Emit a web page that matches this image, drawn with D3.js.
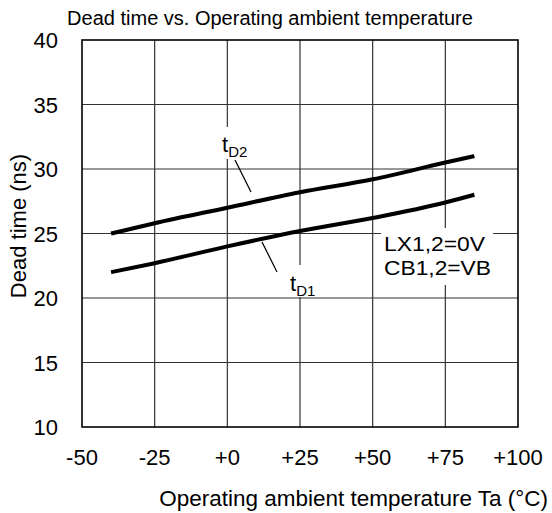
<!DOCTYPE html>
<html>
<head>
<meta charset="utf-8">
<script src="https://cdn.jsdelivr.net/npm/d3@7"></script>
<style>
body { margin: 0; background: #fff; }
svg text { font-family: "Liberation Sans", Arial, sans-serif; fill: #000; }
</style>
</head>
<body>
<svg id="chart" width="552" height="513"></svg>
<script>
// data
var temps = [-40, -25, 0, 25, 50, 75, 85];
var tD1 = [22, 22.7, 24, 25.2, 26.2, 27.4, 28];
var tD2 = [25, 25.8, 27, 28.2, 29.2, 30.5, 31];
var xTicks = [-50, -25, 0, 25, 50, 75, 100];
var xTickLabels = ["-50", "-25", "+0", "+25", "+50", "+75", "+100"];
var yTicks = [10, 15, 20, 25, 30, 35, 40];
var conditions = ["LX1,2=0V", "CB1,2=VB"];

var svg = d3.select("#chart");
var pLeft = 82, pRight = 518, pTop = 40, pBottom = 427;

var x = d3.scaleLinear().domain([-50, 100]).range([pLeft, pRight]);
var y = d3.scaleLinear().domain([10, 40]).range([pBottom, pTop]);

/* grid */
var g = svg.append("g");
g.selectAll("line.vx")
  .data(xTicks.slice(1, -1))
  .enter().append("line")
  .attr("x1", function(d) { return x(d); })
  .attr("x2", function(d) { return x(d); })
  .attr("y1", pTop).attr("y2", pBottom)
  .attr("stroke", "#333").attr("stroke-width", 1.2);
g.selectAll("line.hy")
  .data(yTicks.slice(1, -1))
  .enter().append("line")
  .attr("x1", pLeft).attr("x2", pRight)
  .attr("y1", function(d) { return y(d); })
  .attr("y2", function(d) { return y(d); })
  .attr("stroke", "#333").attr("stroke-width", 1.2);

// frame
g.append("rect")
  .attr("x", pLeft).attr("y", pTop)
  .attr("width", pRight - pLeft).attr("height", pBottom - pTop)
  .attr("fill", "none").attr("stroke", "#000").attr("stroke-width", 1.6);

/* tick labels */
svg.selectAll("text.xt")
  .data(xTicks)
  .enter().append("text")
  .attr("x", function(d) { return x(d); })
  .attr("y", 465)
  .attr("text-anchor", "middle")
  .attr("font-size", 22)
  .text(function(d, i) { return xTickLabels[i]; });

svg.selectAll("text.yt")
  .data(yTicks)
  .enter().append("text")
  .attr("x", 58)
  .attr("y", function(d) { return y(d) + 8; })
  .attr("text-anchor", "end")
  .attr("font-size", 22)
  .text(function(d) { return d; });

/* titles */
svg.append("text")
  .attr("x", 270).attr("y", 25)
  .attr("text-anchor", "middle")
  .attr("font-size", 20)
  .text("Dead time vs. Operating ambient temperature");

svg.append("text")
  .attr("x", 548).attr("y", 506)
  .attr("text-anchor", "end")
  .attr("font-size", 22.5)
  .text("Operating ambient temperature Ta (\u00B0C)");

svg.append("text")
  .attr("transform", "translate(26,226) rotate(-90)")
  .attr("text-anchor", "middle")
  .attr("font-size", 22)
  .text("Dead time (ns)");

/* curves */
var line = d3.line()
  .x(function(d) { return x(d[0]); })
  .y(function(d) { return y(d[1]); })
  .curve(d3.curveMonotoneX);

[tD1, tD2].forEach(function(s) {
  svg.append("path")
    .attr("d", line(temps.map(function(t, i) { return [t, s[i]]; })))
    .attr("fill", "none")
    .attr("stroke", "#000")
    .attr("stroke-width", 4);
});

/* labels with white backing */
function label(bx, by, bw, bh, tx, ty, sub) {
  svg.append("rect").attr("x", bx).attr("y", by)
    .attr("width", bw).attr("height", bh).attr("fill", "#fff");
  var t = svg.append("text").attr("x", tx).attr("y", ty).attr("font-size", 22);
  t.append("tspan").text("t");
  t.append("tspan").attr("font-size", 15).attr("dy", 5).text(sub);
}
label(218, 127, 34, 32, 222, 152, "D2");
label(286, 265, 34, 32, 290, 291, "D1");

// leader lines
svg.append("line").attr("x1", 235).attr("y1", 160).attr("x2", 251).attr("y2", 192)
  .attr("stroke", "#000").attr("stroke-width", 1.2);
svg.append("line").attr("x1", 262).attr("y1", 242).attr("x2", 277).attr("y2", 272)
  .attr("stroke", "#000").attr("stroke-width", 1.2);

// condition box
svg.append("rect").attr("x", 381).attr("y", 228)
  .attr("width", 112).attr("height", 57).attr("fill", "#fff");
svg.selectAll("text.cond")
  .data(conditions)
  .enter().append("text")
  .attr("x", 384)
  .attr("y", function(d, i) { return 251 + i * 24; })
  .attr("font-size", 21)
  .attr("textLength", function(d, i) { return i ? 107 : 101; })
  .attr("lengthAdjust", "spacingAndGlyphs")
  .text(function(d) { return d; });
</script>
</body>
</html>
